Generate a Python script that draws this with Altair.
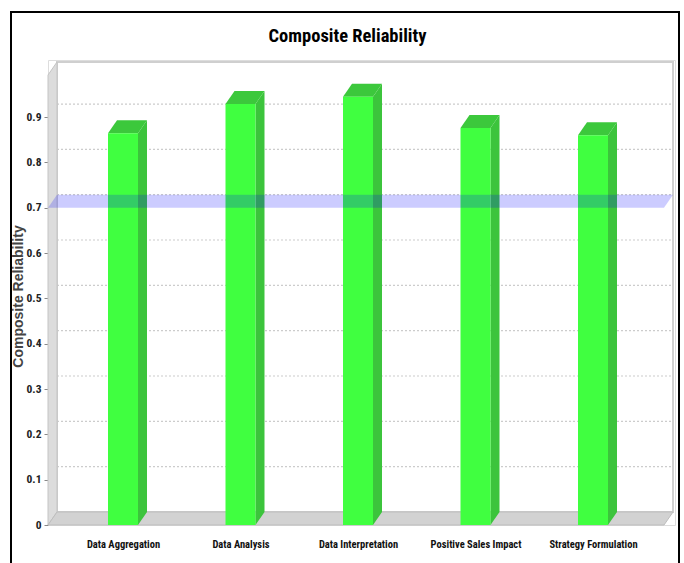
import json
import altair as alt
import pandas as pd

# ---------------- data ----------------
categories = ["Data Aggregation", "Data Analysis", "Data Interpretation",
              "Positive Sales Impact", "Strategy Formulation"]
reliability = [0.864, 0.929, 0.945, 0.876, 0.860]
threshold = 0.7
y_ticks = [0, 0.1, 0.2, 0.3, 0.4, 0.5, 0.6, 0.7, 0.8, 0.9]
chart_title = "Composite Reliability"
y_title = "Composite Reliability"

# ---------------- layout geometry (pixels -> data units) ----------------
W, H = 627, 465            # plot area
PX_X = 117.5               # pixels per category step
PX_Y = 453.3               # pixels per 1.0 of reliability
X_MIN = -75 / PX_X
X_MAX = X_MIN + W / PX_X
Y_MAX = H / PX_Y
DX = 9 / PX_X              # 3-D depth offset, x
DY = 13 / PX_Y             # 3-D depth offset, y
HW = 15 / PX_X             # half bar width
X0 = X_MIN                 # front plane left
X1 = 541 / PX_X            # front plane right
TOP = 450 / PX_Y           # front plane top

NARROW = ("Liberation Sans Narrow, Arial Narrow, Roboto Condensed, Noto Sans Condensed, "
          "Open Sans Condensed, Liberation Sans, Arial, sans-serif")
WIDE = "Liberation Sans, Arial, Helvetica, sans-serif"

xscale = alt.Scale(domain=[X_MIN, X_MAX], nice=False, zero=False)
yscale = alt.Scale(domain=[0, Y_MAX], nice=False, zero=True)

label_expr = json.dumps(categories) + "[round(datum.value)]"


def X(field="x"):
    return alt.X(f"{field}:Q", scale=xscale,
                 axis=alt.Axis(values=list(range(len(categories))), labelExpr=label_expr,
                               ticks=False, tickSize=0, domain=False, grid=False,
                               labelOverlap=False, labelPadding=14, labelFont=NARROW,
                               labelFontSize=10.5, labelFontWeight="bold", labelColor="#111",
                               title=None))


def Y(field="y"):
    return alt.Y(f"{field}:Q", scale=yscale, stack=None,
                 axis=alt.Axis(values=y_ticks,
                               labelExpr="datum.value == 0 ? '0' : format(datum.value, '.1f')",
                               ticks=True, tickSize=4, tickColor="#888", domain=False, grid=False,
                               labelOverlap=False, labelPadding=3, labelFont=NARROW,
                               labelFontSize=11.5, labelFontWeight="bold", labelColor="#222",
                               title=y_title, titleFont=WIDE, titleFontSize=14,
                               titleFontWeight="bold", titleColor="#444",
                               titleAngle=270, titleX=-30, titleY=236, titleAlign="center",
                               titleBaseline="middle"))


# ---------------- tables built from the arrays ----------------
back = pd.DataFrame({"x": [X0 + DX], "x2": [X1 + DX], "y": [DY], "y2": [TOP + DY]})
grid = pd.DataFrame({"y": [v + DY for v in y_ticks if v > 0],
                     "x": X0 + DX, "x2": X1 + DX})
left_wall = pd.DataFrame({"x": [X0, X0 + DX], "y": [0, DY], "y2": [TOP, TOP + DY]})


def slab(level, key):
    return [
        {"k": key, "x": X0, "y": level, "y2": level},
        {"k": key, "x": X0 + DX, "y": level + DY, "y2": level},
        {"k": key, "x": X1, "y": level + DY, "y2": level},
        {"k": key, "x": X1 + DX, "y": level + DY, "y2": level + DY},
    ]


floor = pd.DataFrame(slab(0, "floor"))
band = pd.DataFrame(slab(threshold, "band"))

front_rows, side_rows, top_rows = [], [], []
for i, (c, v) in enumerate(zip(categories, reliability)):
    front_rows.append({"cat": c, "x": i - HW, "x2": i + HW, "y": 0, "y2": v})
    side_rows += [
        {"cat": c, "x": i + HW, "y": v, "y2": 0},
        {"cat": c, "x": i + HW + DX, "y": v + DY, "y2": DY},
    ]
    top_rows += [
        {"cat": c, "x": i - HW, "y": v, "y2": v},
        {"cat": c, "x": i - HW + DX, "y": v + DY, "y2": v},
        {"cat": c, "x": i + HW, "y": v + DY, "y2": v},
        {"cat": c, "x": i + HW + DX, "y": v + DY, "y2": v + DY},
    ]
front = pd.DataFrame(front_rows)
side = pd.DataFrame(side_rows)
topf = pd.DataFrame(top_rows)

# ---------------- layers ----------------
back_l = alt.Chart(back).mark_rect(fill="white", stroke="#cfcfcf", strokeWidth=2).encode(
    x=X(), x2="x2:Q", y=Y(), y2="y2:Q")
grid_l = alt.Chart(grid).mark_rule(color="#cccccc", strokeWidth=1.2, strokeDash=[2, 2]).encode(
    x=X(), x2="x2:Q", y=Y())
wall_l = alt.Chart(left_wall).mark_area(orient="vertical", fill="#dcdcdc", stroke="#c4c4c4",
                                        strokeWidth=1).encode(x=X(), y=Y(), y2="y2:Q")
floor_l = alt.Chart(floor).mark_area(orient="vertical", fill="#d2d2d2", stroke="#bdbdbd",
                                     strokeWidth=1).encode(x=X(), y=Y(), y2="y2:Q", detail="k:N")
side_l = alt.Chart(side).mark_area(orient="vertical", fill="#3cc43c").encode(
    x=X(), y=Y(), y2="y2:Q", detail="cat:N")
top_l = alt.Chart(topf).mark_area(orient="vertical", fill="#3cc83c").encode(
    x=X(), y=Y(), y2="y2:Q", detail="cat:N")
front_l = alt.Chart(front).mark_rect(fill="#40ff40").encode(
    x=X(), x2="x2:Q", y=Y(), y2="y2:Q")
band_l = alt.Chart(band).mark_area(orient="vertical", fill="#0000ff", opacity=0.2).encode(
    x=X(), y=Y(), y2="y2:Q", detail="k:N")
frame_l = alt.Chart(pd.DataFrame({"a": [0]})).mark_rect(fill=None, stroke="black", strokeWidth=2).encode(
    x=alt.value(-37), x2=alt.value(631), y=alt.value(-48), y2=alt.value(540))

chart = alt.layer(back_l, grid_l, wall_l, floor_l, side_l, top_l, front_l, band_l, frame_l).properties(
    width=W, height=H,
    autosize=alt.AutoSizeParams(type="none"),
    padding={"left": 48, "top": 60, "right": 9, "bottom": 38},
    title=alt.TitleParams(chart_title, font=NARROW, fontSize=18.5, fontWeight="bold",
                          color="black", anchor="middle", frame="group", offset=0,
                          dy=34, dx=-14),
).configure_view(stroke=None).configure(background="white")

chart.save("out.html", embed_options={"renderer": "svg", "actions": False})
